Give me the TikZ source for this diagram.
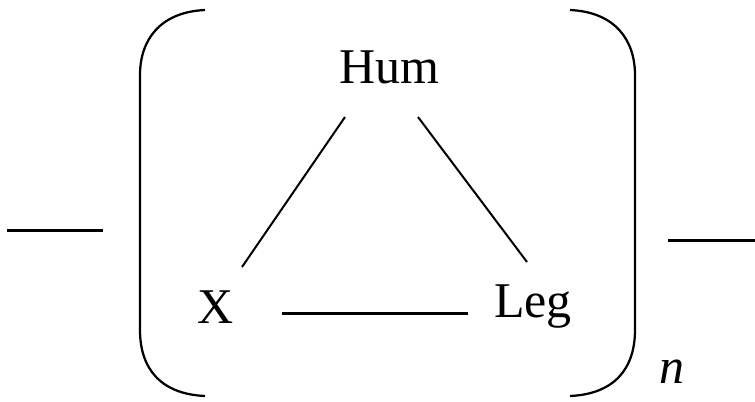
\documentclass[tikz,border=0pt]{standalone}
\usepackage{fontspec}
\setmainfont{Liberation Serif}
\usepackage{tikz}
\usetikzlibrary{positioning,calc}
\tikzset{
  lbl/.style={font=\fontsize{20}{24}\selectfont,inner sep=0pt,anchor=base},
  bond/.style={line width=0.8pt},
  hbond/.style={line width=1.2pt},
  brk/.style={line width=0.9pt}
}

\begin{document}
\begin{tikzpicture}[x=0.4pt,y=-0.4pt]
\useasboundingbox (0,0) rectangle (755,401);
\node[lbl] (hum) at (389,83) {Hum};
\node[lbl] (x) at (216,323) {X};
\node[lbl] (leg) at (533,317) {Leg};
\node[lbl] (rep) at (672,383) {\itshape n};
\draw[bond] ($(hum.base)+(-44,34)$) -- ($(x.base)+(26,-56)$);
\draw[bond] ($(hum.base)+(29,34)$) -- ($(leg.base)+(-6,-55)$);
\draw[hbond] ($(x.base)+(66,-10)$) -- ($(leg.base)+(-65,-4)$);
% brackets
\draw[brk] (205,10) .. controls (160,12) and (140,40) .. (140,75) -- (140,330)
  .. controls (140,368) and (160,394) .. (205,396);
\draw[brk] (570,10) .. controls (615,12) and (635,40) .. (635,75) -- (635,330)
  .. controls (635,368) and (615,394) .. (570,396);
% open ends
\coordinate (lin) at (7,230);
\coordinate (lout) at (103,230);
\coordinate (rin) at (668,240);
\coordinate (rout) at (755,240);
\draw[hbond] (lin) -- (lout);
\draw[hbond] (rin) -- (rout);
\end{tikzpicture}
\end{document}
